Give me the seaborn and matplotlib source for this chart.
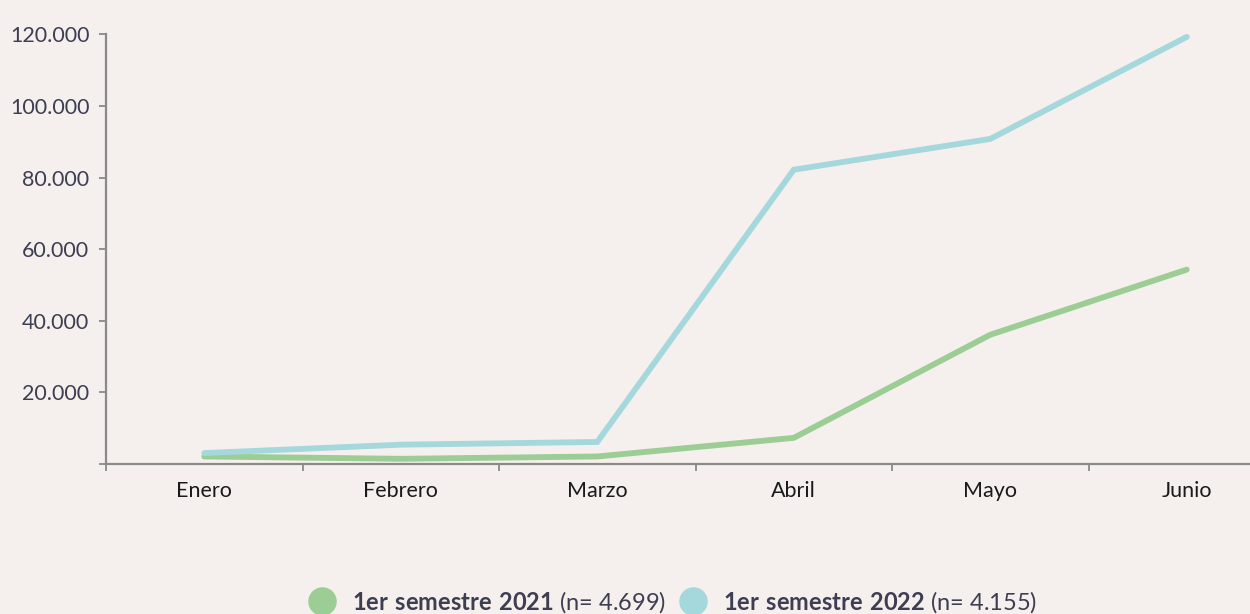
import matplotlib
matplotlib.use("Agg")
import matplotlib.pyplot as plt
from matplotlib.lines import Line2D
from matplotlib.ticker import FuncFormatter, FixedLocator
import seaborn as sns
import pandas as pd

meses = ["Enero", "Febrero", "Marzo", "Abril", "Mayo", "Junio"]
serie_2021 = [2100, 1450, 2100, 7300, 36100, 54300]
serie_2022 = [3050, 5400, 6150, 82200, 90800, 119300]
nombres = ["1er semestre 2021", "1er semestre 2022"]
n_labels = ["(n= 4.699)", "(n= 4.155)"]
yticks = [20000, 40000, 60000, 80000, 100000, 120000]

BG = "#f5f0ed"
GREEN = "#9bcd94"
BLUE = "#a4d8dc"
AXC = "#8a8a8a"
TXT = "#3e3e52"

sns.set_theme(style="white")
plt.rcParams["font.family"] = ["Lato", "DejaVu Sans"]
plt.rcParams["mathtext.fontset"] = "custom"
plt.rcParams["mathtext.bf"] = "Lato:bold"
plt.rcParams["mathtext.rm"] = "Lato"

df = pd.DataFrame({
    "mes": meses * 2,
    "valor": serie_2021 + serie_2022,
    "serie": [nombres[0]] * 6 + [nombres[1]] * 6,
})

fig = plt.figure(figsize=(12.5, 6.14), dpi=100, facecolor=BG)
ax = fig.add_axes([106 / 1250, 150 / 614, 1179 / 1250, 429.6 / 614])
ax.set_facecolor(BG)

sns.lineplot(data=df, x="mes", y="valor", hue="serie", palette=[GREEN, BLUE],
             sort=False, linewidth=4.2, ax=ax, legend=False,
             solid_capstyle="round", solid_joinstyle="miter")

ax.set_xlim(-0.5, 5.5)
ax.set_ylim(0, 120000)
ax.set_xlabel("")
ax.set_ylabel("")

for s in ["top", "right"]:
    ax.spines[s].set_visible(False)
for s in ["left", "bottom"]:
    ax.spines[s].set_color(AXC)
    ax.spines[s].set_linewidth(1.6)

ax.yaxis.set_major_locator(FixedLocator(yticks))
ax.yaxis.set_major_formatter(FuncFormatter(lambda v, p: f"{int(v):,}".replace(",", ".")))
ax.tick_params(axis="y", which="major", direction="out", length=5, width=1.3,
               color=AXC, labelsize=15.5, labelcolor=TXT, pad=7, left=True)
ax.yaxis.set_minor_locator(FixedLocator([0]))
ax.tick_params(axis="y", which="minor", direction="out", length=5, width=1.3, color=AXC, left=True)

ax.set_xticks(range(len(meses)))
ax.set_xticklabels(meses)
ax.tick_params(axis="x", which="major", length=0, labelsize=15.5, labelcolor="#1a1a1a", pad=12)
ax.xaxis.set_minor_locator(FixedLocator([i - 0.5 for i in range(len(meses))]))
ax.tick_params(axis="x", which="minor", direction="out", length=5, width=1.3, color=AXC, bottom=True)

handles = [Line2D([], [], linestyle="none", marker="o", markersize=19.5,
                  markerfacecolor=c, markeredgecolor=c) for c in [GREEN, BLUE]]
labels = [r"$\bf{" + n.replace(" ", r"\ ") + "}$ " + k for n, k in zip(nombres, n_labels)]
leg = fig.legend(handles, labels, loc="center", bbox_to_anchor=(0.538, 0.02),
                 ncol=2, frameon=False, fontsize=17, handletextpad=0.65,
                 columnspacing=0.55, handlelength=1.2, borderaxespad=0)
for t in leg.get_texts():
    t.set_color(TXT)

fig.savefig("out.png", dpi=100, facecolor=BG)
